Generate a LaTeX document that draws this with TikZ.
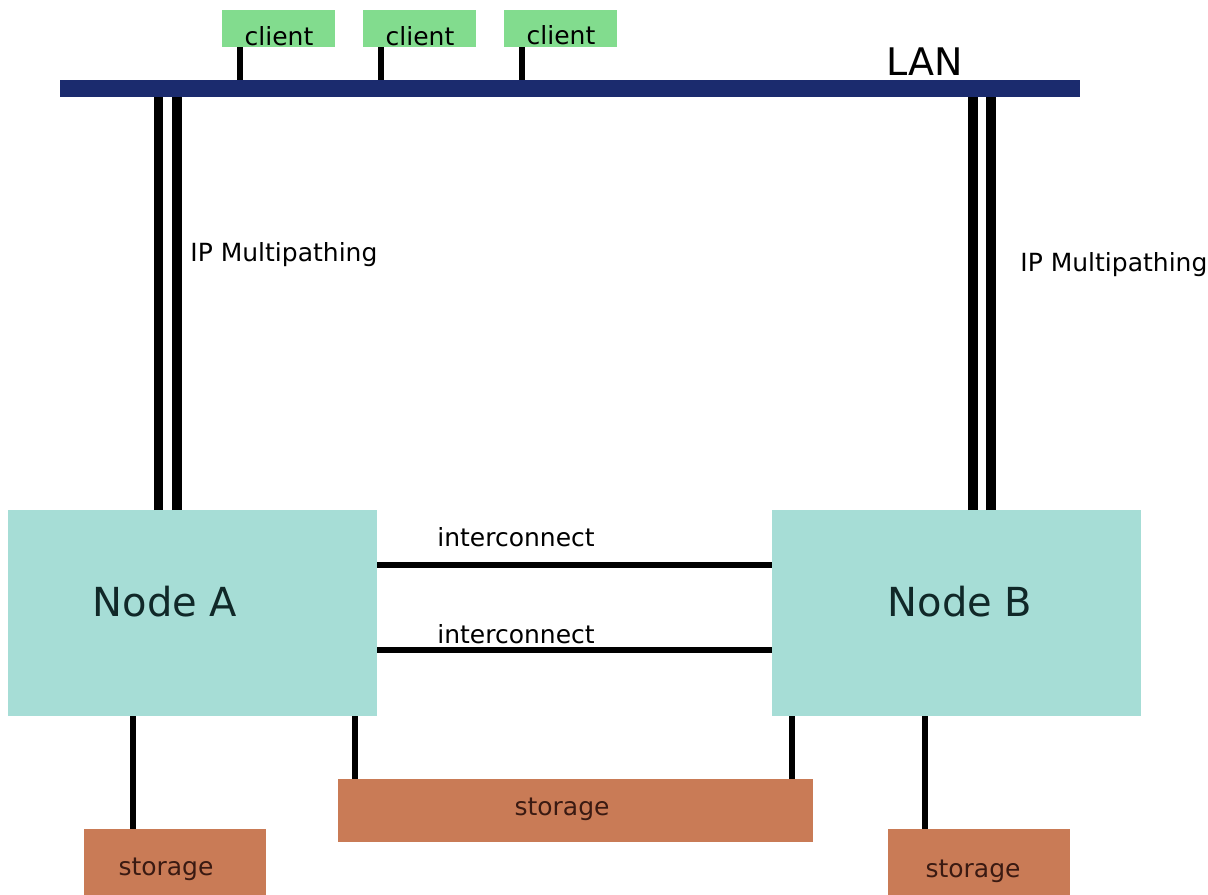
\documentclass[tikz,border=0pt]{standalone}
\usepackage{fontspec}
\setmainfont{DejaVu Sans}
\definecolor{lannavy}{HTML}{1B2B6E}
\definecolor{clientgreen}{HTML}{82DC8E}
\definecolor{nodeteal}{HTML}{A6DDD6}
\definecolor{storbrown}{HTML}{C97B56}
\definecolor{nodetext}{HTML}{102828}
\definecolor{stortext}{HTML}{3A1A12}
\begin{document}
\begin{tikzpicture}[x=0.5pt,y=-0.5pt,
  blk/.style={draw=none,inner sep=0pt,outer sep=0pt,rectangle},
  clientbox/.style={blk,fill=clientgreen,minimum width=56.5pt,minimum height=18.5pt},
  nodebox/.style={blk,fill=nodeteal,minimum width=184.5pt,minimum height=103pt},
  storbox/.style={blk,fill=storbrown},
  small/.style={inner sep=0pt,font=\fontsize{12.5}{15}\selectfont},
  big/.style={inner sep=0pt,font=\fontsize{20}{24}\selectfont},
  wire/.style={line width=3.4pt,black},
  stub/.style={line width=3pt,black},
  dbl/.style={line width=4.75pt,black}]
\clip (0,0) rectangle (1208,894);
\fill[white] (0,0) rectangle (1208,894);
% LAN
\node[blk,fill=lannavy,minimum width=510pt,minimum height=8.5pt] (lan) at (570,88.5) {};
\node[big,font=\fontsize{19}{22}\selectfont] (lanlbl) at (925,62) {LAN};
% clients
\node[clientbox] (c1) at (278.5,28.5) {};
\node[clientbox] (c2) at (419.5,28.5) {};
\node[clientbox] (c3) at (560,28.5) {};
\node[small] (c1t) at (279,36) {client};
\node[small] (c2t) at (420,36) {client};
\node[small] (c3t) at (561,35) {client};
\draw[stub] ([xshift=9pt]c1.south west) -- ([xshift=9pt]c1.south west |- lan.north);
\draw[stub] ([xshift=9pt]c2.south west) -- ([xshift=9pt]c2.south west |- lan.north);
\draw[stub] ([xshift=9pt]c3.south west) -- ([xshift=9pt]c3.south west |- lan.north);
% cluster nodes
\node[nodebox] (A) at (192.5,613) {};
\node[nodebox] (B) at (956.5,613) {};
\node[big,text=nodetext] (At) at (165,602) {Node A};
\node[big,text=nodetext] (Bt) at (960,602) {Node B};
% IP multipathing
\draw[dbl] ([xshift=75.25pt]A.north west) -- ([xshift=75.25pt]A.north west |- lan.south);
\draw[dbl] ([xshift=84.5pt]A.north west) -- ([xshift=84.5pt]A.north west |- lan.south);
\draw[dbl] ([xshift=100.5pt]B.north west) -- ([xshift=100.5pt]B.north west |- lan.south);
\draw[dbl] ([xshift=109.5pt]B.north west) -- ([xshift=109.5pt]B.north west |- lan.south);
\node[small,anchor=west] (ipa) at (190,255) {IP Multipathing};
\node[small,anchor=west] (ipb) at (1020,265) {IP Multipathing};
% interconnects
\draw[wire] ([yshift=-27.5pt]A.north east) -- ([yshift=-27.5pt]B.north west);
\draw[wire] ([yshift=-70pt]A.north east) -- ([yshift=-70pt]B.north west);
\node[small] (ic1) at (516,537) {interconnect};
\node[small] (ic2) at (516,634) {interconnect};
% storage
\node[storbox,minimum width=91pt,minimum height=41pt] (sl) at (175,870) {};
\node[storbox,minimum width=237.5pt,minimum height=31.5pt] (sm) at (575.5,810) {};
\node[storbox,minimum width=91pt,minimum height=41pt] (sr) at (979,870) {};
\node[small,text=stortext] (slt) at (166,869) {storage};
\node[small,text=stortext] (smt) at (562,809) {storage};
\node[small,text=stortext] (srt) at (973,871) {storage};
\draw[wire] ([xshift=62.5pt]A.south west) -- ([xshift=62.5pt]A.south west |- sl.north);
\draw[wire] ([xshift=173.5pt]A.south west) -- ([xshift=173.5pt]A.south west |- sm.north);
\draw[wire] ([xshift=10pt]B.south west) -- ([xshift=10pt]B.south west |- sm.north);
\draw[wire] ([xshift=76.5pt]B.south west) -- ([xshift=76.5pt]B.south west |- sr.north);
\end{tikzpicture}
\end{document}
